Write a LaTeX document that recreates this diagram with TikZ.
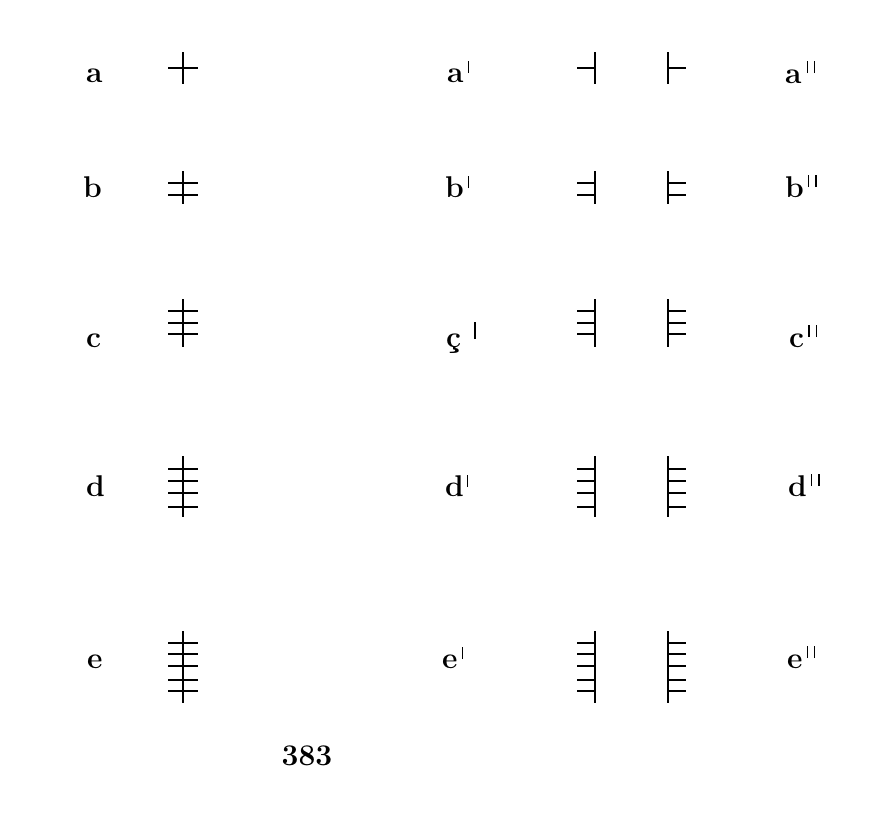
\documentclass[tikz,border=0pt]{standalone}
\newcommand\prm[2]{\raisebox{#1pt}{\rule{1.3pt}{#2pt}}}
\begin{document}
\begin{tikzpicture}[x=1pt,y=-1pt,
  stroke/.style={line width=2pt, line cap=butt},
  lbl/.style={font=\fontsize{30}{34}\selectfont\bfseries, anchor=base west, inner sep=0pt}]
\useasboundingbox (0,0) rectangle (885,812);
% row data: top, bottom, bars
\foreach \t/\b/\bars in {52/84/{68}, 171/204/{183,195}, 299/347/{311,323,334}, 456/517/{469,481,493,507}, 631/703/{643,654,666,680,691}}{
  \draw[stroke] (183,\t) -- (183,\b);
  \draw[stroke] (595,\t) -- (595,\b);
  \draw[stroke] (668,\t) -- (668,\b);
  \foreach \y in \bars {
    \draw[stroke] (168,\y) -- (198,\y);
    \draw[stroke] (577,\y) -- (595,\y);
    \draw[stroke] (668,\y) -- (686,\y);
  }
}
\node[lbl] (la) at (86,82) {a};
\node[lbl] (lb) at (83,197) {b};
\node[lbl] (lc) at (86,347) {c};
\node[lbl] (ld) at (86,496) {d};
\node[lbl] (le) at (87,668) {e};
\node[lbl] (la1) at (447,82) {a\hspace{4pt}\prm{9}{12}};
\node[lbl] (lb1) at (445,197) {b\hspace{4pt}\prm{9}{12}};
\node[lbl] (lc1) at (446,347) {\c{c}\hspace{13pt}\prm{8}{17}};
\node[lbl] (ld1) at (445,496) {d\hspace{3pt}\prm{9}{12}};
\node[lbl] (le1) at (442,668) {e\hspace{4pt}\prm{9}{12}};
\node[lbl] (la2) at (785,83) {a\hspace{5pt}\prm{10}{12}\hspace{6pt}\prm{10}{12}};
\node[lbl] (lb2) at (785,197) {b\hspace{4pt}\prm{10}{12}\hspace{6pt}\prm{10}{12}};
\node[lbl] (lc2) at (789,347) {c\hspace{4pt}\prm{10}{12}\hspace{6pt}\prm{10}{12}};
\node[lbl] (ld2) at (788,496) {d\hspace{4pt}\prm{10}{12}\hspace{6pt}\prm{10}{12}};
\node[lbl] (le2) at (787,668) {e\hspace{4pt}\prm{10}{12}\hspace{6pt}\prm{10}{12}};
\node[lbl, anchor=base] (pg) at (307,765) {383};
\end{tikzpicture}
\end{document}
